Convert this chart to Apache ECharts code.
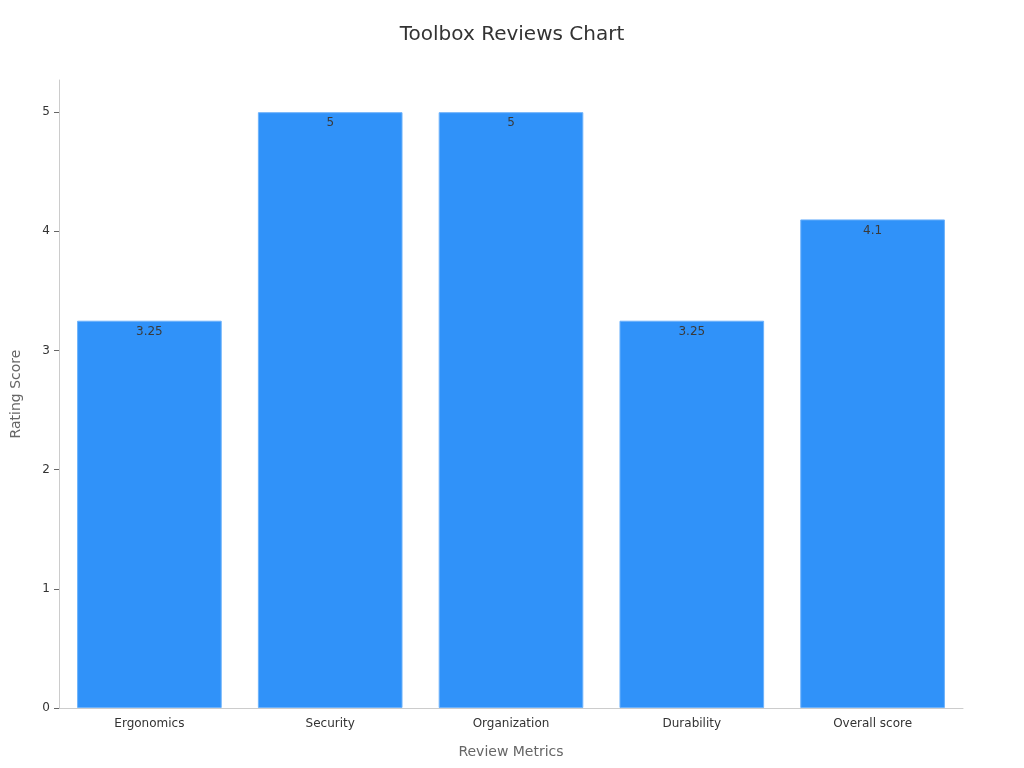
<!DOCTYPE html>
<html>
<head>
<meta charset="utf-8">
<script src="https://cdn.jsdelivr.net/npm/echarts@6/dist/echarts.min.js"></script>
<style>
  html, body { margin: 0; padding: 0; background: #fff; }
  #main { width: 1024px; height: 768px; }
</style>
</head>
<body>
<div id="main"></div>
<script>
// review categories and scores
const categories = ['Ergonomics', 'Security', 'Organization', 'Durability', 'Overall score'];
const scores = [3.25, 5, 5, 3.25, 4.1];
const yTicks = [0, 1, 2, 3, 4, 5];

const myChart = echarts.init(document.getElementById('main'));
myChart.setOption({
  animation: false,
  textStyle: { fontFamily: 'DejaVu Sans' },
  title: {
    text: 'Toolbox Reviews Chart',
    left: 'center',
    top: 20,
    textStyle: { fontSize: 20, fontWeight: 'normal', color: '#333' }
  },
  grid: { left: 59, right: 61, top: 80, bottom: 60, containLabel: false },
  xAxis: {
    type: 'category',
    data: categories,
    name: 'Review Metrics',
    nameLocation: 'middle',
    nameGap: 37,
    nameTextStyle: { fontSize: 14, color: '#666' },
    axisLine: { lineStyle: { color: '#ccc' } },
    axisTick: { alignWithLabel: true, lineStyle: { color: '#666' } },
    axisLabel: { fontSize: 12, color: '#333', margin: 10 }
  },
  yAxis: {
    type: 'value',
    min: 0,
    max: 5.27,
    name: 'Rating Score',
    nameLocation: 'middle',
    nameGap: 36,
    nameTextStyle: { fontSize: 14, color: '#666' },
    splitLine: { show: false },
    axisLine: { show: true, lineStyle: { color: '#ccc' } },
    axisTick: { show: true, customValues: yTicks, lineStyle: { color: '#666' } },
    axisLabel: { fontSize: 12, color: '#333', customValues: yTicks, margin: 9 }
  },
  series: [{
    name: 'Rating Score',
    type: 'bar',
    data: scores,
    barWidth: '80%',
    itemStyle: { color: '#3092f9', borderColor: '#6db2fb', borderWidth: 1 },
    label: {
      show: true,
      position: 'insideTop',
      distance: 5,
      color: '#3a3a3a',
      fontSize: 12
    }
  }]
});
</script>
</body>
</html>
